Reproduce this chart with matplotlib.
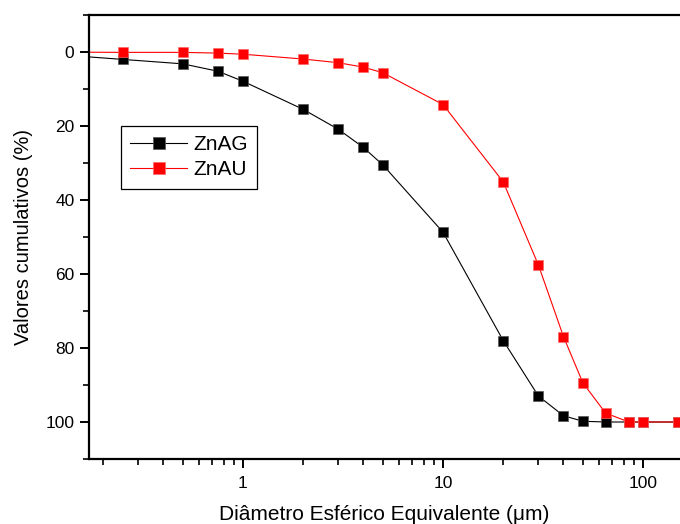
import matplotlib
matplotlib.use("Agg")
import matplotlib.pyplot as plt
from matplotlib.ticker import LogLocator, NullFormatter, FixedLocator, FuncFormatter

plt.rcParams['font.family'] = ['Liberation Sans', 'DejaVu Sans']

diam = [0.1, 0.25, 0.5, 0.75, 1, 2, 3, 4, 5, 10, 20, 30, 40, 50, 65, 85, 100, 150]
znag = [0.4, 2.0, 3.2, 5.2, 7.9, 15.5, 20.9, 25.8, 30.5, 48.7, 78.0, 93.0, 98.3, 99.8, 100, 100, 100, 100]
znau = [0.0, 0.1, 0.1, 0.3, 0.6, 1.9, 2.9, 4.1, 5.6, 14.2, 35.1, 57.6, 76.9, 89.4, 97.6, 100, 100, 100]

fig = plt.figure(figsize=(6.8, 5.24), dpi=100)
ax = fig.add_axes([89/680, 1-459/524, 1-89/680, (459-15)/524])

ax.plot(diam, znag, color='black', lw=0.8, marker='s', ms=6.5, mfc='black', mec='#555555', mew=0.5, label='ZnAG')
ax.plot(diam, znau, color='red', lw=0.8, marker='s', ms=6.5, mfc='red', mec='#ff6666', mew=0.5, label='ZnAU')

ax.set_xscale('log')
ax.set_xlim(0.170, 153)
ax.set_ylim(110, -10)

ax.xaxis.set_major_locator(FixedLocator([1, 10, 100]))
ax.xaxis.set_major_formatter(FuncFormatter(lambda v, p: f"{v:g}"))
ax.xaxis.set_minor_locator(LogLocator(base=10, subs=range(2, 10)))
ax.xaxis.set_minor_formatter(NullFormatter())
ax.yaxis.set_major_locator(FixedLocator([0, 20, 40, 60, 80, 100]))
ax.yaxis.set_minor_locator(FixedLocator([10, 30, 50, 70, 90, 110, -10]))

ax.spines['right'].set_visible(False)
for s in ['left', 'top', 'bottom']:
    ax.spines[s].set_linewidth(1.6)

ax.tick_params(which='major', direction='out', length=6.5, width=1.4, labelsize=12.5)
ax.tick_params(axis='y', which='major', pad=4)
ax.tick_params(axis='x', which='major', pad=6)
ax.tick_params(which='minor', direction='out', length=4.5, width=1.2)
ax.tick_params(top=False, right=False)

ax.set_xlabel('Diâmetro Esférico Equivalente (μm)', fontsize=15, labelpad=10)
ax.set_ylabel('Valores cumulativos (%)', fontsize=14.5, labelpad=9)

leg = ax.legend(loc='upper left', bbox_to_anchor=((121-89)/591, 1-(126-15)/444), fontsize=15,
                frameon=True, fancybox=False, framealpha=1, edgecolor='black',
                handlelength=2.7, borderpad=0.45, labelspacing=0.28, handletextpad=0.3,
                borderaxespad=0, markerscale=1.25)
leg.get_frame().set_linewidth(0.9)

fig.savefig('out.png', dpi=100)
